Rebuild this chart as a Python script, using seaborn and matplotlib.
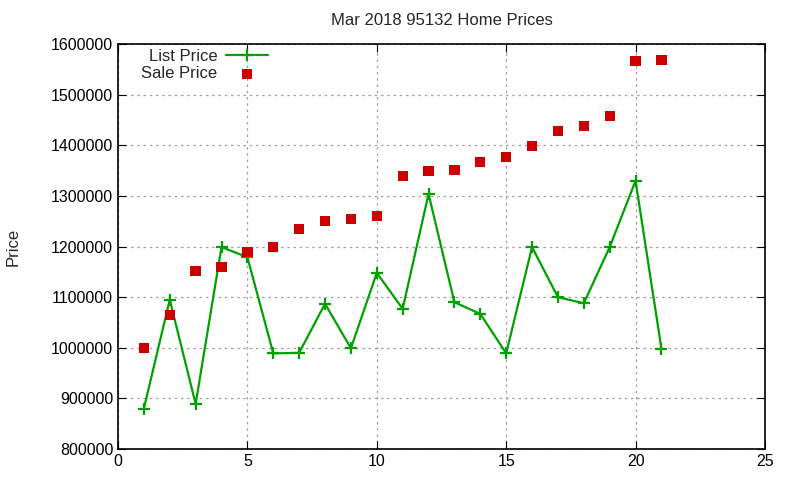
import seaborn as sns
import matplotlib.pyplot as plt
import pandas as pd

# House index (x) and prices
house = list(range(1, 22))
list_price = [880000, 1095000, 889000, 1199000, 1179000, 989000, 990000, 1087000,
              999000, 1148000, 1077000, 1304000, 1090000, 1067000, 989000, 1199000,
              1100000, 1088000, 1199000, 1330000, 998000]
sale_price = [1000000, 1065000, 1152000, 1160000, 1189000, 1199000, 1235000, 1251000,
              1255000, 1261000, 1340000, 1349000, 1351000, 1367000, 1377000, 1399000,
              1428000, 1438000, 1458000, 1567000, 1569000]

df = pd.DataFrame({'House': house, 'List Price': list_price, 'Sale Price': sale_price})

sns.set_style('ticks')
plt.rcParams['font.family'] = ['Liberation Sans', 'DejaVu Sans']

fig = plt.figure(figsize=(8, 4.8), dpi=100)
ax = fig.add_axes([0.1475, 0.0646, 0.8087, 0.8434])

sns.lineplot(x='House', y='List Price', data=df, ax=ax, color='#00a000',
             marker='+', markersize=8, markeredgewidth=1.6, markeredgecolor='#00a000',
             linewidth=1.6, label='List Price')
sns.scatterplot(x='House', y='Sale Price', data=df, ax=ax, color='#cc0000',
                marker='s', s=55, edgecolor='none', label='Sale Price', zorder=3)

# gnuplot-like frame and grid
ax.set_xlim(0, 25)
ax.set_ylim(800000, 1600000)
ax.set_xticks(range(0, 26, 5))
ax.set_yticks(range(800000, 1600001, 100000))
ax.ticklabel_format(style='plain', axis='y')
ax.grid(True, color='#a0a0a0', linestyle=(0, (2, 3)), linewidth=0.9)
ax.tick_params(direction='in', top=True, right=True, length=6, labelsize=11.5, colors='black')
for sp in ax.spines.values():
    sp.set_color('black')
    sp.set_linewidth(1.2)

ax.set_xlabel('')
ax.set_ylabel('Price', fontsize=12, labelpad=22)
ax.set_title('Mar 2018 95132 Home Prices', fontsize=12, pad=14)

leg = ax.legend(loc='upper left', frameon=False, markerfirst=False, fontsize=12,
                handlelength=2.5, handletextpad=0.5, borderaxespad=0.0, labelspacing=0.12,
                bbox_to_anchor=(0.026, 1.004))

plt.savefig('out.png', dpi=100)
